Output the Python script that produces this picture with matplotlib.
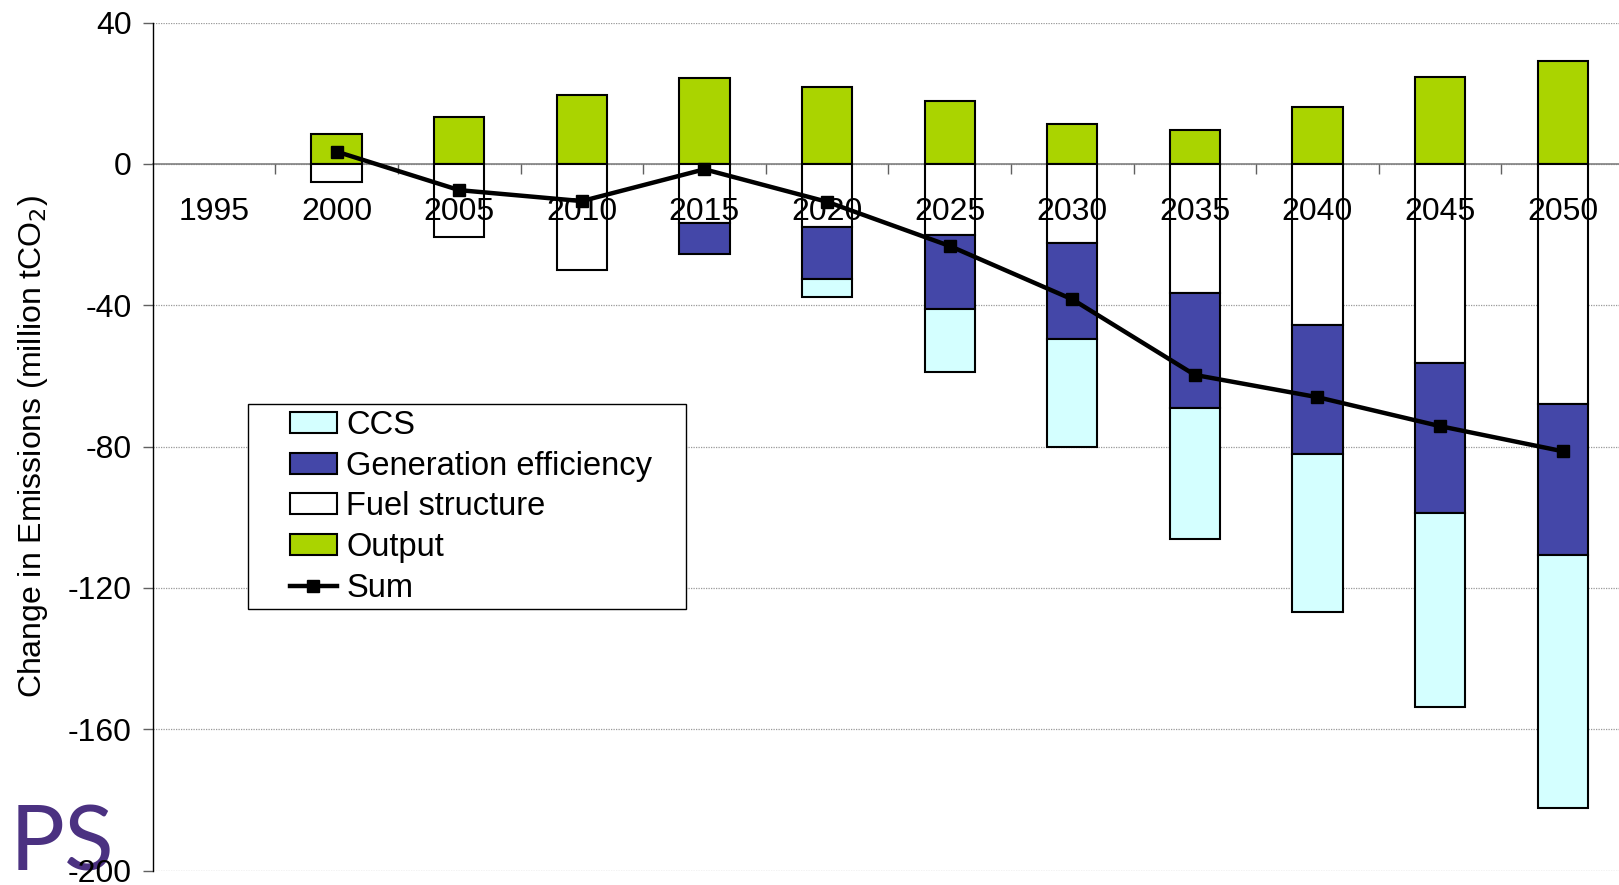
import numpy as np
import matplotlib
matplotlib.use("Agg")
import matplotlib.pyplot as plt
from matplotlib.patches import Patch, Rectangle
from matplotlib.lines import Line2D

plt.rcParams['font.family'] = ['Liberation Sans', 'DejaVu Sans']
plt.rcParams['axes.unicode_minus'] = False

years = ['1995', '2000', '2005', '2010', '2015', '2020', '2025',
         '2030', '2035', '2040', '2045', '2050']
output = [0, 8.5, 13.2, 19.5, 24.2, 21.7, 17.7, 11.3, 9.6, 16.0, 24.5, 29.1]
fuel_structure = [0, -5.0, -20.6, -30.0, -16.6, -17.7, -20.0, -22.3, -36.6, -45.6, -56.2, -67.9]
generation_eff = [0, 0, 0, 0, -9.0, -14.9, -21.0, -27.3, -32.6, -36.6, -42.7, -42.7]
ccs = [0, 0, 0, 0, 0, -5.0, -17.8, -30.6, -36.9, -44.7, -54.7, -71.6]
sum_years = ['2000', '2005', '2010', '2015', '2020', '2025',
             '2030', '2035', '2040', '2045', '2050']
total = [3.5, -7.4, -10.5, -1.5, -10.7, -23.2, -38.3, -59.7, -66.0, -74.2, -81.3]

C_OUTPUT = '#AAD400'
C_GEN = '#4447A8'
C_CCS = '#D4FFFF'
C_FUEL = '#FFFFFF'

FS = 23

fig = plt.figure(figsize=(16.19, 8.85), dpi=100)
ax = fig.add_axes([0.0943, 0.0162, 0.9088, 0.9582])

x = np.arange(len(years))
width = 0.41
out = np.array(output)
fuel = np.array(fuel_structure)
gen = np.array(generation_eff)
cc = np.array(ccs)

bar_kw = dict(width=width, edgecolor='black', linewidth=1.5, zorder=3)

def stacked(values, bottom, color):
    m = values != 0
    ax.bar(x[m], values[m], bottom=bottom[m], color=color, **bar_kw)

stacked(out, np.zeros_like(out), C_OUTPUT)
stacked(fuel, np.zeros_like(fuel), C_FUEL)
stacked(gen, fuel, C_GEN)
stacked(cc, fuel + gen, C_CCS)

sx = [years.index(y) for y in sum_years]
ax.plot(sx, total, color='black', lw=3.2, marker='s', ms=9, zorder=5)

ax.set_xlim(-0.5, len(years) - 0.5)
ax.set_ylim(-200, 40)
ax.set_yticks(np.arange(-200, 41, 40))
ax.yaxis.grid(True, linestyle=(0, (1, 1)), color='#999999', lw=0.9, zorder=0)

for s in ['top', 'right']:
    ax.spines[s].set_visible(False)
ax.spines['bottom'].set_position(('data', 0))
ax.spines['bottom'].set_color('#808080')
ax.spines['bottom'].set_linewidth(1.2)
ax.spines['bottom'].set_zorder(2)
ax.spines['left'].set_color('black')
ax.spines['left'].set_linewidth(1.0)

ax.set_xticks(x)
ax.set_xticklabels(years)
ax.set_xticks(x[:-1] + 0.5, minor=True)
ax.tick_params(axis='x', which='major', length=0, pad=24, labelsize=FS)
ax.tick_params(axis='x', which='minor', length=7, width=1, color='#606060', direction='out')
ax.tick_params(axis='y', length=7, width=1, color='#606060', pad=8, labelsize=FS)
# year labels sit on top of the bars, the Sum line goes over them
ax.xaxis.set_zorder(4)

ax.set_ylabel('Change in Emissions (million tCO$_2$)', fontsize=FS, labelpad=13)

handles = [
    Patch(facecolor=C_CCS, edgecolor='black', linewidth=1.5, label='CCS'),
    Patch(facecolor=C_GEN, edgecolor='black', linewidth=1.5, label='Generation efficiency'),
    Patch(facecolor=C_FUEL, edgecolor='black', linewidth=1.5, label='Fuel structure'),
    Patch(facecolor=C_OUTPUT, edgecolor='black', linewidth=1.5, label='Output'),
    Line2D([], [], color='black', lw=3.2, marker='s', ms=9, label='Sum'),
]
ax.add_patch(Rectangle((0.0648, 0.3086), 0.2977, 0.2414, transform=ax.transAxes,
                       facecolor='white', edgecolor='black', lw=1.0, zorder=6))
leg = ax.legend(handles=handles, loc='center left', bbox_to_anchor=(0.0933, 0.4289),
                frameon=False, fontsize=23.5, borderpad=0, borderaxespad=0,
                labelspacing=0.3, handlelength=1.44, handleheight=0.61,
                handletextpad=0.28)
leg.set_zorder(7)

fig.text(0.006, 0.0162, 'PS', color='#4B3181', fontsize=66,
         family=['Lato', 'DejaVu Sans'], ha='left', va='baseline', zorder=-1)

fig.savefig('out.png', dpi=100)
